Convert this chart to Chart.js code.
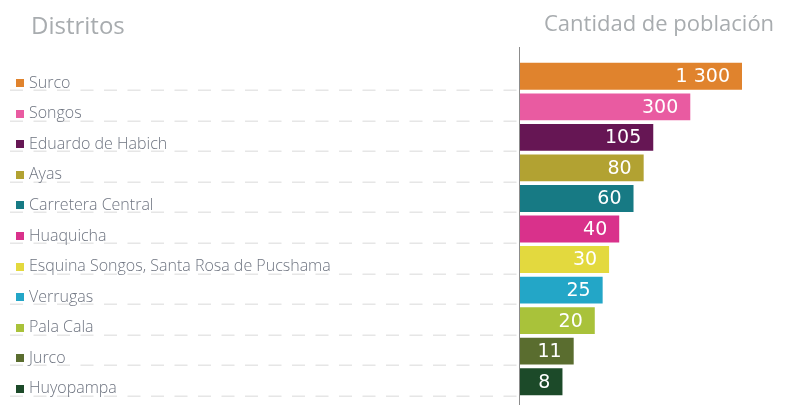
<!DOCTYPE html>
<html>
<head>
<meta charset="utf-8">
<script src="https://cdn.jsdelivr.net/npm/chart.js@4.4.0/dist/chart.umd.min.js"></script>
<style>
  html, body { margin: 0; padding: 0; background: #ffffff; }
  #wrap { width: 793px; height: 405px; position: relative; }
</style>
</head>
<body>
<div id="wrap"><canvas id="chart" width="793" height="405"></canvas></div>
<script>
// datos
var districts = ['Surco', 'Songos', 'Eduardo de Habich', 'Ayas', 'Carretera Central', 'Huaquicha',
  'Esquina Songos, Santa Rosa de Pucshama', 'Verrugas', 'Pala Cala', 'Jurco', 'Huyopampa'];
var population = [1300, 300, 105, 80, 60, 40, 30, 25, 20, 11, 8];
var barColors = ['#e0832d', '#e95ba1', '#661654', '#b2a232', '#177a84', '#d9318b',
  '#e3d93e', '#23a6c7', '#a9c23a', '#5a6d2f', '#1c4a29'];
var titleLeft = 'Distritos';
var titleRight = 'Cantidad de población';

function formatNumber(v) {
  return String(v).replace(/\B(?=(\d{3})+(?!\d))/g, ' ');
}

// dibuja titulos, etiquetas, lineas punteadas y valores
var decorations = {
  id: 'decorations',
  beforeDatasetsDraw: function(chart) {
    var ctx = chart.ctx;
    var yScale = chart.scales.y;
    var left = chart.chartArea.left;
    ctx.save();
    ctx.strokeStyle = '#e6e6e6';
    ctx.lineWidth = 1.5;
    ctx.setLineDash([13, 10.5]);
    for (var i = 0; i < districts.length; i++) {
      var y = Math.round(yScale.getPixelForValue(i) + 14) + 0.25;
      ctx.beginPath();
      ctx.moveTo(10, y);
      ctx.lineTo(left - 1, y);
      ctx.stroke();
    }
    ctx.restore();
  },
  afterDatasetsDraw: function(chart) {
    var ctx = chart.ctx;
    var yScale = chart.scales.y;
    var meta = chart.getDatasetMeta(0);
    var left = chart.chartArea.left;
    ctx.save();

    // eje vertical
    ctx.strokeStyle = '#8c8c8c';
    ctx.lineWidth = 1;
    ctx.beginPath();
    ctx.moveTo(left - 0.5, 47);
    ctx.lineTo(left - 0.5, 405);
    ctx.stroke();

    // titulos
    ctx.fillStyle = '#a8acaf';
    ctx.textBaseline = 'alphabetic';
    ctx.textAlign = 'left';
    ctx.font = '24px "Open Sans", sans-serif';
    ctx.fillText(titleLeft, 31, 34);
    ctx.font = '22px "Open Sans", sans-serif';
    ctx.fillText(titleRight, 544, 31);

    // etiquetas de categorias
    ctx.font = '300 16px "Open Sans", sans-serif';
    ctx.textBaseline = 'middle';
    for (var i = 0; i < districts.length; i++) {
      var cy = yScale.getPixelForValue(i) + 7;
      ctx.fillStyle = barColors[i];
      ctx.fillRect(16, Math.round(cy) - 4, 8, 8);
      ctx.fillStyle = '#6e7480';
      ctx.fillText(districts[i], 29, cy);
    }

    // valores dentro de las barras
    ctx.font = '19px "DejaVu Sans", sans-serif';
    ctx.fillStyle = '#ffffff';
    ctx.textAlign = 'right';
    meta.data.forEach(function(bar, i) {
      ctx.fillText(formatNumber(population[i]), bar.x - 12, bar.y + 1);
    });
    ctx.restore();
  }
};

var chart = new Chart(document.getElementById('chart').getContext('2d'), {
  type: 'bar',
  data: {
    labels: districts,
    datasets: [{
      data: population,
      backgroundColor: barColors,
      borderWidth: 0,
      barPercentage: 0.88,
      categoryPercentage: 1.0
    }]
  },
  options: {
    indexAxis: 'y',
    responsive: false,
    animation: false,
    layout: { padding: { left: 520, right: 8, top: 61, bottom: 8 } },
    plugins: {
      legend: { display: false },
      tooltip: { enabled: false }
    },
    scales: {
      x: {
        type: 'logarithmic',
        min: 2.4,
        max: 4400,
        bounds: 'data',
        display: false
      },
      y: {
        display: false
      }
    }
  },
  plugins: [decorations]
});
</script>
</body>
</html>
